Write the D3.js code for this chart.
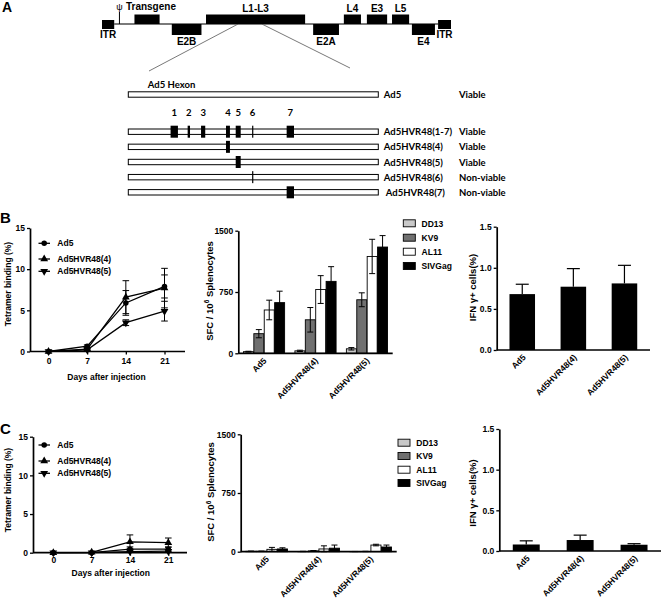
<!DOCTYPE html>
<html><head><meta charset="utf-8">
<script src="https://cdn.jsdelivr.net/npm/d3@7"></script>
<style>
body{margin:0;background:#fff;}
svg text{font-family:"Liberation Sans",Arial,sans-serif;font-weight:bold;fill:#000;}
svg text.cal{font-family:Lato,"Liberation Sans",sans-serif;}
</style></head><body>
<svg id="fig" width="664" height="611"></svg>
<script>
// ================= DATA =================
// Panel A: adenovirus genome map (map units 0-100)
const genomeGenes  = ["ITR","Transgene","E2B","L1-L3","E2A","L4","E3","L5","E4","ITR"];
const genomeStart  = [0, 9.3, 20, 29.8, 60.5, 69.3, 75.9, 83.1, 88.8, 96.3];
const genomeEnd    = [3.5, 16.5, 28.5, 58.2, 67.9, 74.2, 81.7, 88.0, 95.4, 100];
const genomeStrand = ["mid","top","bottom","top","bottom","top","top","top","bottom","mid"];
const psiPosition  = 5.0;
const hexonRegion  = [39, 45.8];

// Panel A: hexon constructs (hexon residues)
const hexonLength = 952;
const hvrNumbers  = [1, 2, 3, 4, 5, 6, 7];
const hvrStart    = [161, 226, 277, 372, 409, 471.5, 603];
const hvrEnd      = [189, 235, 293, 387, 428, 474.5, 631];
const constructNames  = ["Ad5","Ad5HVR48(1-7)","Ad5HVR48(4)","Ad5HVR48(5)","Ad5HVR48(6)","Ad5HVR48(7)"];
const constructHVRs   = [[], [1,2,3,4,5,6,7], [4], [5], [6], [7]];
const constructStatus = ["Viable","Viable","Viable","Viable","Non-viable","Non-viable"];

// Panels B/C: tetramer binding over time
const days = [0, 7, 14, 21];
const tetSeries = ["Ad5","Ad5HVR48(4)","Ad5HVR48(5)"];
const tetB_Ad5  = [0, 0.65, 5.9, 7.9];  const tetB_Ad5_err  = [0, 0.15, 1.5, 1.4];
const tetB_HVR4 = [0, 0.3, 6.6, 7.7];   const tetB_HVR4_err = [0, 0.1, 2.0, 2.4];
const tetB_HVR5 = [0, 0.2, 3.5, 4.9];   const tetB_HVR5_err = [0, 0.1, 0.35, 1.2];
const tetC_Ad5  = [0, 0, 0.45, 0.45];   const tetC_Ad5_err  = [0, 0, 0.3, 0.3];
const tetC_HVR4 = [0, 0.05, 1.4, 1.3];  const tetC_HVR4_err = [0, 0, 0.9, 0.6];
const tetC_HVR5 = [0, 0, 0.15, 0.2];    const tetC_HVR5_err = [0, 0, 0.1, 0.15];
const tetTicks = [0, 5, 10, 15];

// Panels B/C: ELISPOT (SFC / 10^6 splenocytes)
const vectors  = ["Ad5","Ad5HVR48(4)","Ad5HVR48(5)"];
const peptides = ["DD13","KV9","AL11","SIVGag"];
const peptideColors = ["#c9c9c9","#707070","#ffffff","#000000"];
const elisB_DD13 = [20, 30, 55];      const elisB_DD13_err = [5, 8, 15];
const elisB_KV9  = [240, 410, 655];   const elisB_KV9_err  = [50, 150, 85];
const elisB_AL11 = [530, 780, 1185];  const elisB_AL11_err = [120, 170, 210];
const elisB_SIV  = [620, 880, 1300];  const elisB_SIV_err  = [140, 180, 140];
const elisC_DD13 = [5, 3, 2];         const elisC_DD13_err = [3, 2, 1];
const elisC_KV9  = [5, 10, 3];        const elisC_KV9_err  = [3, 5, 2];
const elisC_AL11 = [30, 35, 85];      const elisC_AL11_err = [25, 40, 10];
const elisC_SIV  = [35, 45, 60];      const elisC_SIV_err  = [15, 40, 25];
const elisTicks = [0, 750, 1500];

// Panels B/C: IFN-gamma+ cells (%)
const ifnB = [0.68, 0.77, 0.81];  const ifnB_err = [0.12, 0.22, 0.22];
const ifnC = [0.08, 0.135, 0.077]; const ifnC_err = [0.045, 0.06, 0.013];
const ifnTicks = [0, 0.5, 1.0, 1.5];

// ================= DRAWING =================
const svg = d3.select("#fig");

function styleAxis(sel, fs){
  sel.attr("font-family", null).attr("font-size", null);
  sel.selectAll("text").attr("font-size", fs);
  sel.selectAll(".tick line").attr("stroke","#000").attr("stroke-width",1.3);
  sel.selectAll("path.domain").attr("stroke","#000").attr("stroke-width",1.7);
}

// Panel letters
svg.append("text").attr("x",2).attr("y",12).attr("font-size",14).text("A");
svg.append("text").attr("x",0).attr("y",223).attr("font-size",15).text("B");
svg.append("text").attr("x",0).attr("y",434).attr("font-size",15).text("C");

// ---------- Panel A genome map ----------
(function(){
  const gx = d3.scaleLinear().domain([0,100]).range([102,451]);
  const lineY = 24;
  const g = svg.append("g");
  g.append("line").attr("x1",gx(genomeEnd[0])).attr("x2",gx(genomeStart[genomeStart.length-1]))
    .attr("y1",lineY).attr("y2",lineY).attr("stroke","#7a7a7a").attr("stroke-width",1.8);
  // zoom lines to hexon
  g.append("line").attr("x1",gx(hexonRegion[0])).attr("y1",lineY).attr("x2",149).attr("y2",71)
    .attr("stroke","#555").attr("stroke-width",0.8);
  g.append("line").attr("x1",gx(hexonRegion[1])).attr("y1",lineY).attr("x2",350).attr("y2",68)
    .attr("stroke","#555").attr("stroke-width",0.8);
  genomeGenes.forEach((name,i)=>{
    const x0 = gx(genomeStart[i]), x1 = gx(genomeEnd[i]);
    const s = genomeStrand[i];
    let y, h, ty;
    if(s==="top"){ y=14.5; h=lineY-14.5; ty=11.5; }
    else if(s==="bottom"){ y=lineY; h=11; ty=45; }
    else { y=20; h=9; ty=38; }
    g.append("rect").attr("x",x0).attr("y",y).attr("width",x1-x0).attr("height",h).attr("fill","#000");
    if(name==="Transgene"){
      g.append("text").attr("x",gx(psiPosition)+6.5).attr("y",ty-1.5).attr("font-size",10).text(name);
    } else {
      g.append("text").attr("x",(x0+x1)/2).attr("y",ty).attr("text-anchor","middle").attr("font-size",10).text(name);
    }
  });
  // packaging signal psi
  g.append("line").attr("x1",gx(psiPosition)).attr("x2",gx(psiPosition)).attr("y1",12).attr("y2",lineY)
    .attr("stroke","#000").attr("stroke-width",1);
  g.append("text").attr("x",gx(psiPosition)).attr("y",10).attr("text-anchor","middle")
    .attr("font-size",9).style("font-weight","normal").text("ψ");
})();

// ---------- Panel A hexon constructs ----------
(function(){
  const hx = d3.scaleLinear().domain([0,hexonLength]).range([128.3,378.3]);
  const g = svg.append("g");
  const refY = 94.5;
  const rowY = d3.scalePoint().domain(constructNames.slice(1)).range([131.7,192.3]);
  const yOf = (name,i)=> i===0 ? refY : rowY(name);
  const barH = 5.4;
  g.append("text").attr("class","cal").attr("x",hx(0)+19.5).attr("y",88).attr("font-size",9.5).text("Ad5 Hexon");
  // HVR numbers
  hvrNumbers.forEach((n,k)=>{
    g.append("text").attr("class","cal").attr("x",hx((hvrStart[k]+hvrEnd[k])/2)).attr("y",116)
      .attr("text-anchor","middle").attr("font-size",9.5).text(n);
  });
  constructNames.forEach((name,i)=>{
    const cy = yOf(name,i);
    g.append("rect").attr("x",hx(0)).attr("y",cy-barH/2).attr("width",hx(hexonLength)-hx(0)).attr("height",barH)
      .attr("fill","#fff").attr("stroke","#000").attr("stroke-width",1);
    constructHVRs[i].forEach(n=>{
      const k = hvrNumbers.indexOf(n);
      const x0 = hx(hvrStart[k]), x1 = hx(hvrEnd[k]);
      g.append("rect").attr("x",x0).attr("y",cy-6).attr("width",Math.max(x1-x0,1.2)).attr("height",12).attr("fill","#000");
    });
    g.append("text").attr("class","cal").attr("x",hx(hexonLength)+5.5 + (i===5?2:0)).attr("y",cy+3.5)
      .attr("font-size",9.5).text(name);
    g.append("text").attr("class","cal").attr("x",459).attr("y",cy+3.5).attr("font-size",9.5).text(constructStatus[i]);
  });
})();

// ---------- Line chart (tetramer) ----------
function lineChart(cfg){
  const g = svg.append("g");
  const x = d3.scaleLinear().domain([0,21]).range([cfg.xDay0, cfg.xDay21]);
  const y = d3.scaleLinear().domain([0,15]).range([cfg.y0, cfg.yTop]);
  const ya = g.append("g").attr("transform",`translate(${cfg.axisX},0)`)
    .call(d3.axisLeft(y).tickValues(tetTicks).tickSize(3).tickSizeOuter(0).tickPadding(2));
  styleAxis(ya, 8.5);
  const xa = g.append("g").attr("transform",`translate(0,${cfg.y0})`)
    .call(d3.axisBottom(x).tickValues(days).tickSize(3).tickPadding(cfg.xTickPad));
  xa.select(".domain").remove();
  styleAxis(xa, 8.5);
  g.append("line").attr("x1",cfg.axisX).attr("x2",cfg.axisXEnd).attr("y1",cfg.y0).attr("y2",cfg.y0)
    .attr("stroke","#000").attr("stroke-width",1.7);
  g.append("text").attr("x",(cfg.xDay0+cfg.xDay21)/2).attr("y",cfg.xTitleY)
    .attr("text-anchor","middle").attr("font-size",8.5).text("Days after injection");
  g.append("text").attr("transform",`translate(${cfg.yTitleX},${cfg.yTitleCY}) rotate(-90)`)
    .attr("text-anchor","middle").attr("font-size",8.5).text("Tetramer binding (%)");
  const symbols = [
    d3.symbol().type(d3.symbolCircle).size(24),
    d3.symbol().type(d3.symbolTriangle).size(26),
    d3.symbol().type(d3.symbolTriangle).size(26)
  ];
  const rot = [0,0,180];
  const line = d3.line().x((d,i)=>x(days[i])).y(d=>y(d));
  cfg.series.forEach(s=>{
    g.append("path").attr("d",line(s)).attr("fill","none").attr("stroke","#000").attr("stroke-width",1.3);
  });
  cfg.series.forEach((s,si)=>{
    s.forEach((v,i)=>{
      const e = cfg.errors[si][i];
      if(e>0){
        const cx = x(days[i]);
        g.append("line").attr("x1",cx).attr("x2",cx).attr("y1",y(v-e)).attr("y2",y(v+e)).attr("stroke","#000").attr("stroke-width",1);
        [v-e,v+e].forEach(t=>g.append("line").attr("x1",cx-3.3).attr("x2",cx+3.3).attr("y1",y(t)).attr("y2",y(t)).attr("stroke","#000").attr("stroke-width",1));
      }
    });
  });
  cfg.series.forEach((s,si)=>{
    s.forEach((v,i)=>{
      g.append("path").attr("d",symbols[si]()).attr("fill","#000")
        .attr("transform",`translate(${x(days[i])},${y(v)}) rotate(${rot[si]})`);
    });
  });
  tetSeries.forEach((name,si)=>{
    const ly = cfg.legendY[si];
    g.append("line").attr("x1",38.5).attr("x2",50).attr("y1",ly).attr("y2",ly).attr("stroke","#000").attr("stroke-width",1.3);
    g.append("path").attr("d",symbols[si]()).attr("fill","#000").attr("transform",`translate(44.2,${ly}) rotate(${rot[si]})`);
    g.append("text").attr("x",57.3).attr("y",ly+3).attr("font-size",8.5).text(name);
  });
}

// ---------- Grouped bar chart (ELISPOT) ----------
function barChart(cfg){
  const g = svg.append("g");
  const x0 = d3.scaleBand().domain(vectors).range([cfg.axisX, cfg.axisXEnd]).paddingInner(0.2).paddingOuter(0.1);
  const x1 = d3.scaleBand().domain(peptides).range([0, x0.bandwidth()]).paddingInner(0.04);
  const y = d3.scaleLinear().domain([0,1500]).range([cfg.y0, cfg.yTop]);
  cfg.values.forEach((vals,pi)=>{
    vals.forEach((v,vi)=>{
      const bx = x0(vectors[vi]) + x1(peptides[pi]);
      g.append("rect").attr("x",bx).attr("y",y(v)).attr("width",x1.bandwidth()).attr("height",y(0)-y(v))
        .attr("fill",peptideColors[pi]).attr("stroke","#000").attr("stroke-width",0.9);
    });
  });
  cfg.values.forEach((vals,pi)=>{
    vals.forEach((v,vi)=>{
      const e = cfg.errors[pi][vi];
      const cx = x0(vectors[vi]) + x1(peptides[pi]) + x1.bandwidth()/2;
      const lo = Math.max(0, v-e);
      g.append("line").attr("x1",cx).attr("x2",cx).attr("y1",y(lo)).attr("y2",y(v+e)).attr("stroke","#000").attr("stroke-width",1);
      [lo, v+e].forEach(t=>g.append("line").attr("x1",cx-3).attr("x2",cx+3).attr("y1",y(t)).attr("y2",y(t)).attr("stroke","#000").attr("stroke-width",1));
    });
  });
  const ya = g.append("g").attr("transform",`translate(${cfg.axisX},0)`)
    .call(d3.axisLeft(y).tickValues(elisTicks).tickFormat(d3.format("d")).tickSize(3).tickSizeOuter(0).tickPadding(2));
  styleAxis(ya, 8.5);
  g.append("line").attr("x1",cfg.axisX).attr("x2",cfg.axisXEnd).attr("y1",cfg.y0).attr("y2",cfg.y0)
    .attr("stroke","#000").attr("stroke-width",1.7);
  vectors.forEach(v=>{
    g.append("text").attr("transform",`translate(${x0(v)+x0.bandwidth()/2+3},${cfg.y0+8}) rotate(-45)`)
      .attr("text-anchor","end").attr("font-size",8.5).text(v);
  });
  const t = g.append("text").attr("transform",`translate(${cfg.yTitleX},${cfg.yTitleCY}) rotate(-90)`)
    .attr("text-anchor","middle").attr("font-size",9.5);
  t.append("tspan").text("SFC / 10");
  t.append("tspan").attr("dy",-3.5).attr("font-size",6.5).text("6");
  t.append("tspan").attr("dy",3.5).text(" Splenocytes");
  peptides.forEach((p,pi)=>{
    const ly = cfg.legendY[pi];
    g.append("rect").attr("x",cfg.legendX).attr("y",ly-3.5).attr("width",12).attr("height",7)
      .attr("fill",peptideColors[pi]).attr("stroke","#000").attr("stroke-width",0.9);
    g.append("text").attr("x",cfg.legendX+18.3).attr("y",ly+3.2).attr("font-size",8.5).text(p);
  });
}

// ---------- Simple bar chart (IFN-gamma) ----------
function ifnChart(cfg){
  const g = svg.append("g");
  const x = d3.scaleBand().domain(vectors).range([cfg.axisX, cfg.axisXEnd]).paddingInner(0.5).paddingOuter(0.25);
  const y = d3.scaleLinear().domain([0,1.5]).range([cfg.y0, cfg.yTop]);
  cfg.values.forEach((v,i)=>{
    const bx = x(vectors[i]);
    g.append("rect").attr("x",bx).attr("y",y(v)).attr("width",x.bandwidth()).attr("height",y(0)-y(v)).attr("fill","#000");
    const cx = bx + x.bandwidth()/2, e = cfg.errors[i];
    g.append("line").attr("x1",cx).attr("x2",cx).attr("y1",y(v)).attr("y2",y(v+e)).attr("stroke","#000").attr("stroke-width",1.2);
    g.append("line").attr("x1",cx-6.5).attr("x2",cx+6.5).attr("y1",y(v+e)).attr("y2",y(v+e)).attr("stroke","#000").attr("stroke-width",1.2);
  });
  const ya = g.append("g").attr("transform",`translate(${cfg.axisX},0)`)
    .call(d3.axisLeft(y).tickValues(ifnTicks).tickFormat(d3.format(".1f")).tickSize(3).tickSizeOuter(0).tickPadding(2));
  styleAxis(ya, 8.5);
  g.append("line").attr("x1",cfg.axisX).attr("x2",cfg.axisXEnd).attr("y1",cfg.y0).attr("y2",cfg.y0)
    .attr("stroke","#000").attr("stroke-width",1.7);
  vectors.forEach(v=>{
    g.append("text").attr("transform",`translate(${x(v)+x.bandwidth()/2+4},${cfg.y0+8}) rotate(-45)`)
      .attr("text-anchor","end").attr("font-size",8.5).text(v);
  });
  g.append("text").attr("transform",`translate(${cfg.yTitleX},${cfg.yTitleCY}) rotate(-90)`)
    .attr("text-anchor","middle").attr("font-size",9.5).text("IFN γ+ cells(%)");
}

// ---------- Row B ----------
lineChart({axisX:30, axisXEnd:185, y0:351.5, yTop:228, xDay0:48.5, xDay21:164.5, xTickPad:3,
  xTitleY:380, yTitleX:10.5, yTitleCY:284, legendY:[243.3,259,271.3],
  series:[tetB_Ad5, tetB_HVR4, tetB_HVR5], errors:[tetB_Ad5_err, tetB_HVR4_err, tetB_HVR5_err]});
barChart({axisX:238.3, axisXEnd:392.7, y0:353.3, yTop:230.7, yTitleX:212.5, yTitleCY:291,
  legendX:403.3, legendY:[223.3,237.7,251.7,266],
  values:[elisB_DD13, elisB_KV9, elisB_AL11, elisB_SIV],
  errors:[elisB_DD13_err, elisB_KV9_err, elisB_AL11_err, elisB_SIV_err]});
ifnChart({axisX:496.7, axisXEnd:650, y0:350, yTop:226.7, yTitleX:475.5, yTitleCY:287.5,
  values:ifnB, errors:ifnB_err});

// ---------- Row C ----------
lineChart({axisX:33, axisXEnd:187, y0:552.7, yTop:436.7, xDay0:53.3, xDay21:168.3, xTickPad:1.5,
  xTitleY:576, yTitleX:10.5, yTitleCY:490, legendY:[445,461,473.3],
  series:[tetC_Ad5, tetC_HVR4, tetC_HVR5], errors:[tetC_Ad5_err, tetC_HVR4_err, tetC_HVR5_err]});
barChart({axisX:240.7, axisXEnd:396.7, y0:551.7, yTop:434.3, yTitleX:214, yTitleCY:492,
  legendX:398, legendY:[442.7,456,469.7,483],
  values:[elisC_DD13, elisC_KV9, elisC_AL11, elisC_SIV],
  errors:[elisC_DD13_err, elisC_KV9_err, elisC_AL11_err, elisC_SIV_err]});
ifnChart({axisX:499.3, axisXEnd:661, y0:551, yTop:429, yTitleX:476, yTitleCY:493,
  values:ifnC, errors:ifnC_err});
</script>
</body></html>
